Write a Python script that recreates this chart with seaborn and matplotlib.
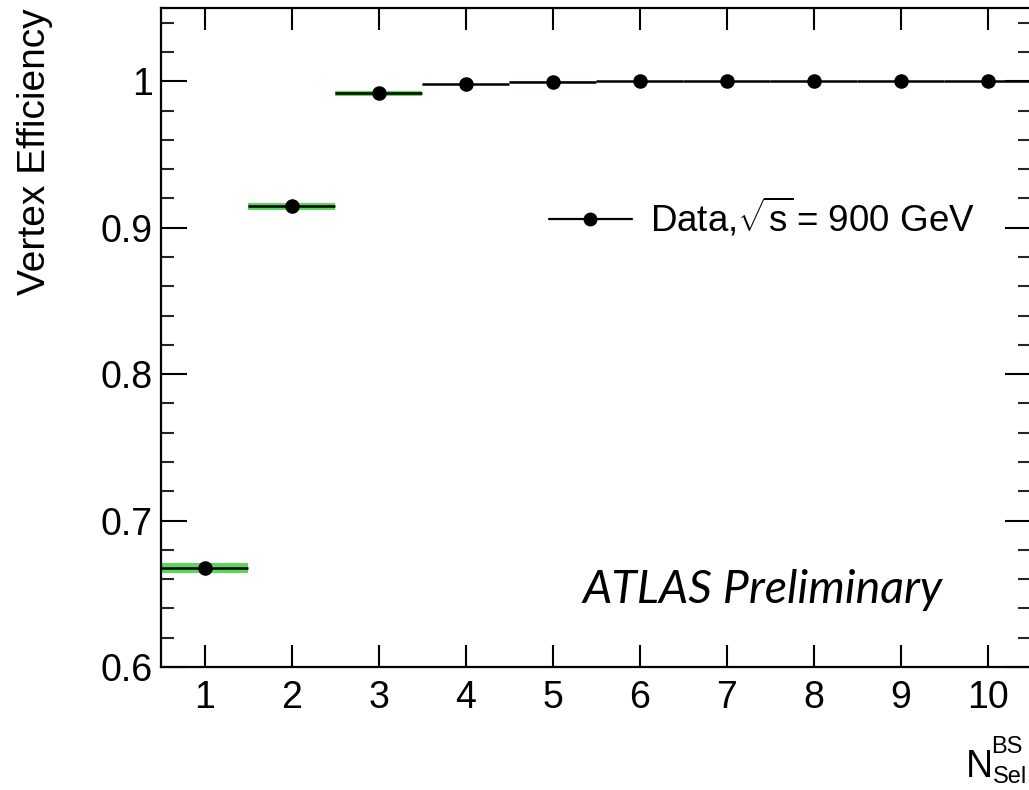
import numpy as np
import pandas as pd
import seaborn as sns
import matplotlib
matplotlib.use("Agg")
import matplotlib.pyplot as plt
from matplotlib.lines import Line2D
from matplotlib.ticker import MultipleLocator

# Data
n_sel = [1, 2, 3, 4, 5, 6, 7, 8, 9, 10]
efficiency = [0.6675, 0.9145, 0.9918, 0.9978, 0.9998, 1.0, 1.0, 1.0, 1.0, 1.0]
syst_err = [0.0032, 0.0024, 0.0016, 0.0004, 0.0002, 0.0, 0.0, 0.0, 0.0, 0.0]
x_ticks = [1, 2, 3, 4, 5, 6, 7, 8, 9, 10]
y_ticks = [0.6, 0.7, 0.8, 0.9, 1.0]
y_tick_labels = ["0.6", "0.7", "0.8", "0.9", "1"]

df = pd.DataFrame({"n": n_sel, "eff": efficiency, "err": syst_err})

sns.set_theme(style="ticks")
plt.rcParams["font.family"] = ["Liberation Sans", "DejaVu Sans"]
plt.rcParams["mathtext.fontset"] = "custom"
plt.rcParams["mathtext.rm"] = "Liberation Sans"
plt.rcParams["mathtext.it"] = "Liberation Sans:italic"

W, H = 1029, 790
fig = plt.figure(figsize=(W / 100, H / 100), dpi=100)
left, right, bottom, top = 161, 1031, 667, 8
ax = fig.add_axes([left / W, (H - bottom) / H, (right - left) / W, (bottom - top) / H])

# green uncertainty bands
ax.bar(df["n"], 2 * df["err"], bottom=df["eff"] - df["err"], width=1.0,
       color="#5ad65a", edgecolor="none", zorder=1)
# horizontal bin lines
ax.errorbar(df["n"], df["eff"], xerr=0.5, fmt="none", ecolor="black",
            elinewidth=1.8, capsize=0, zorder=2)
# markers
sns.scatterplot(data=df, x="n", y="eff", ax=ax, color="black", s=110,
                edgecolor="black", linewidth=0, zorder=3, legend=False)

ax.set_xlim(0.5, 10.5)
ax.set_ylim(0.6, 1.05)
ax.set_xticks(x_ticks)
ax.set_xticklabels([str(t) for t in x_ticks])
ax.set_yticks(y_ticks)
ax.set_yticklabels(y_tick_labels)
ax.yaxis.set_minor_locator(MultipleLocator(0.02))
ax.tick_params(axis="both", which="major", direction="in", top=True, right=True,
               width=1.5, labelsize=27, colors="black")
ax.tick_params(axis="y", which="major", length=19, pad=6)
ax.tick_params(axis="x", which="major", length=16, pad=9)
ax.tick_params(axis="y", which="minor", direction="in", right=True, length=9.5, width=1.5)
ax.tick_params(axis="x", which="minor", bottom=False, top=False)
for s in ax.spines.values():
    s.set_linewidth(1.6)
    s.set_color("black")
ax.set_xlabel("")
ax.set_ylabel("")

# legend
handle = Line2D([0], [0], color="black", lw=1.6, marker="o", markersize=9)
leg = ax.legend([handle], [r"Data,$\sqrt{\mathrm{s}}\,$= 900 GeV"], frameon=False,
                fontsize=26.5, handlelength=2.25, handletextpad=0.5,
                loc="center left", bbox_to_anchor=((549 - left) / (right - left),
                                                   (bottom - 218) / (bottom - top)),
                bbox_transform=ax.transAxes, borderaxespad=0, borderpad=0)
for t in leg.get_texts():
    t.set_color("black")

# ATLAS label
fig.text(583 / W, (H - 590) / H, "ATLAS Preliminary", fontsize=33.5,
         family=["Lato", "DejaVu Sans"], style="italic", ha="left", va="center",
         color="black")

# axis titles
fig.text(35 / W, (H - 8) / H, "Vertex Efficiency", rotation=90, fontsize=28,
         ha="center", va="top", color="black")
fig.text(966 / W, (H - 777) / H, "N", fontsize=27, ha="left", va="baseline",
         color="black")
fig.text(991 / W, (H - 753) / H, "BS", fontsize=17, ha="left", va="baseline",
         color="black")
fig.text(993 / W, (H - 783) / H, "Sel", fontsize=17, ha="left", va="baseline",
         color="black")

fig.savefig("out.png", dpi=100)
